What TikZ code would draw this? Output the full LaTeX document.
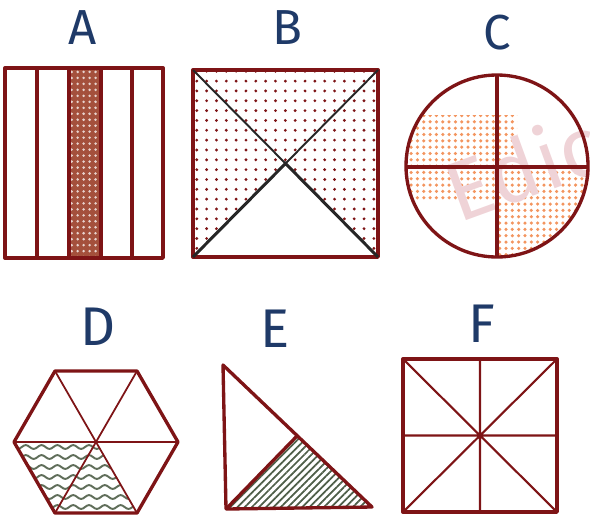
\documentclass[tikz,border=0pt]{standalone}
\usepackage{fontspec}
\setmainfont{Fira Sans}
\usetikzlibrary{patterns.meta,decorations.pathmorphing}
\definecolor{ShapeRed}{HTML}{7E1416}
\definecolor{LabelBlue}{HTML}{1F3A68}
\definecolor{StripFill}{HTML}{A4503C}
\definecolor{DotOrange}{HTML}{F3955F}
\definecolor{HatchGreen}{HTML}{4E5E48}
\definecolor{MarkPink}{HTML}{EFD3D7}

\begin{document}
\begin{tikzpicture}[x=0.02cm,y=-0.02cm,
  letter/.style={font=\fontsize{28}{30}\selectfont,text=LabelBlue},
  outline/.style={draw=ShapeRed,line width=1.9pt,line join=round},
  inner/.style={draw=ShapeRed,line width=1pt},
  wave/.style={HatchGreen!90,line width=1.1pt,decorate,decoration={snake,amplitude=1.1pt,segment length=9pt}}
]
\useasboundingbox (0,0) rectangle (590,514);

% labels
\node[letter] (labA) at (83,28) {A};
\node[letter] (labB) at (287,28) {B};
\node[letter] (labC) at (497,33) {C};
\node[letter,font=\fontsize{31}{33}\selectfont] (labD) at (98,327) {D};
\node[letter,font=\fontsize{31}{33}\selectfont] (labE) at (275,329) {E};
\node[letter,font=\fontsize{31}{33}\selectfont] (labF) at (482,324) {F};

% A: five strips, middle one shaded
\fill[StripFill] (69,68) rectangle (101,258);
\fill[pattern={Dots[distance=3.4pt,radius=0.8pt]},pattern color=white!75!StripFill] (69,68) rectangle (101,258);
\draw[outline] (5,68) rectangle (163,258);
\foreach \x in {37,69,101,132}
  \draw[outline] (\x,68) -- (\x,258);

% B: square cut by its diagonals
\fill[pattern={Dots[distance=5.6pt,radius=0.9pt]},pattern color=ShapeRed]
  (193,70) -- (378,70) -- (378,257) -- (285.5,163.5) -- (193,257) -- cycle;
\draw[outline] (193,70) rectangle (378,257);
\draw[black!85,line width=1.1pt] (193,70) -- (285.5,163.5) -- (378,70);
\draw[black!85,line width=1.7pt] (193,257) -- (285.5,163.5) -- (378,257);

% C: circle in quarters
\begin{scope}
  \clip (497,166) circle[radius=91];
  \fill[pattern={Dots[distance=3.6pt,radius=1pt]},pattern color=DotOrange]
    (400,115) rectangle (517,200) (497,167) rectangle (590,260);
\end{scope}
\node[rotate=20,text=MarkPink,font=\fontsize{48}{48}\selectfont] (mark) at (522,166) {Edic};
\draw[outline] (497,166) circle[radius=91];
\draw[outline] (497,75) -- (497,257) (406,167) -- (588,167);

% D: hexagon in sixths
\begin{scope}
  \clip (14,442) -- (96,442) -- (137,513) -- (55,513) -- cycle;
  \foreach \y in {447,457,...,517}
    \draw[wave] (5,\y) -- (190,\y);
\end{scope}
\draw[inner] (55,371) -- (137,513) (137,371) -- (55,513) (14,442) -- (178,442);
\draw[outline] (178,442) -- (137,371) -- (55,371) -- (14,442) -- (55,513) -- (137,513) -- cycle;

% E: right triangle halved
\fill[pattern={Lines[angle=45,distance=2.9pt,line width=1pt]},pattern color=HatchGreen]
  (226,508) -- (297,436) -- (372,507) -- cycle;
\draw[outline] (223,365) -- (226,509) -- (372,507) -- cycle;
\draw[outline] (226,509) -- (297,436);

% F: square in eighths
\draw[inner,line width=1.2pt] (403,359) -- (557,512) (557,359) -- (403,512)
  (480,359) -- (480,512) (403,435.5) -- (557,435.5);
\draw[outline] (403,359) rectangle (557,512);
\end{tikzpicture}
\end{document}
